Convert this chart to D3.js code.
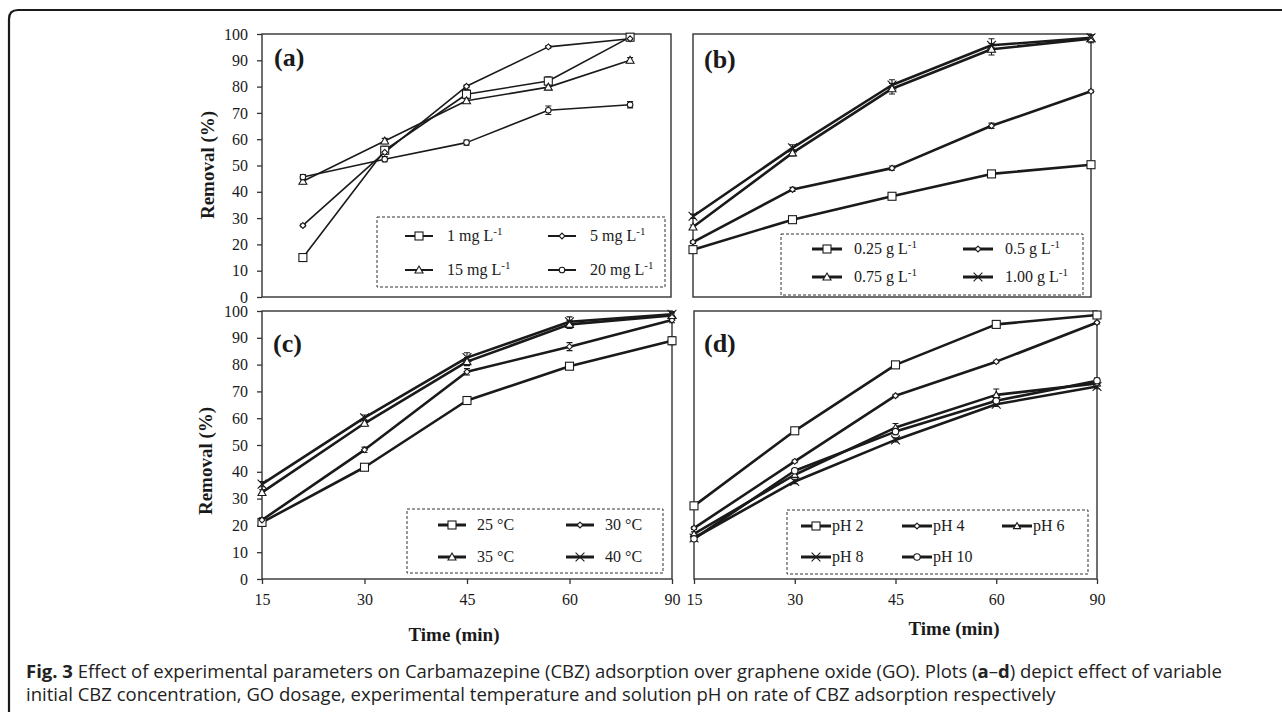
<!DOCTYPE html>
<html><head><meta charset="utf-8">
<script src="https://cdn.jsdelivr.net/npm/d3@7"></script>
<style>body{margin:0;background:#fff}svg{display:block}</style>
</head><body><svg id="c" width="1282" height="713"></svg>
<script>
// ---------- DATA ----------
const timeLabels = ["15", "30", "45", "60", "90"];
const yTickValues = [0, 10, 20, 30, 40, 50, 60, 70, 80, 90, 100];

// (a) initial CBZ concentration
const aLegend = ["1 mg L", "5 mg L", "15 mg L", "20 mg L"];
const a1mg = [15.0, 55.8, 77.1, 82.1, 98.8];
const a5mg = [27.2, 55.0, 80.1, 95.1, 98.2];
const a15mg = [44.0, 59.3, 74.6, 79.8, 90.0];
const a20mg = [45.6, 52.4, 58.7, 71.0, 73.1];
const a1mgErr = [0.8, 1.5, 1.8, 1.6, 1.4];
const a5mgErr = [0.5, 0.5, 0.5, 0.5, 0.5];
const a15mgErr = [1.0, 1.0, 1.0, 1.0, 1.0];
const a20mgErr = [1.0, 1.0, 1.0, 1.6, 1.2];

// (b) GO dosage
const bLegend = ["0.25 g L", "0.5 g L", "0.75 g L", "1.00 g L"];
const b025 = [18.0, 29.4, 38.3, 46.8, 50.3];
const b050 = [20.9, 40.9, 49.0, 65.1, 78.2];
const b075 = [26.6, 54.8, 79.2, 94.2, 98.2];
const b100 = [30.7, 56.7, 80.6, 95.7, 98.6];
const b025Err = [0.8, 0.8, 0.8, 0.8, 0.8];
const b050Err = [0.5, 0.8, 0.8, 1.0, 0.5];
const b075Err = [0.8, 1.2, 2.0, 2.2, 1.5];
const b100Err = [0.8, 1.2, 2.0, 2.5, 1.0];

// (c) temperature
const cLegend = ["25 \u00B0C", "30 \u00B0C", "35 \u00B0C", "40 \u00B0C"];
const c25 = [21.1, 41.7, 66.6, 79.4, 88.9];
const c30 = [22.0, 48.2, 77.3, 86.7, 96.6];
const c35 = [32.3, 58.1, 81.1, 95.0, 98.3];
const c40 = [35.4, 60.2, 82.6, 96.0, 98.8];
const c25Err = [1.0, 1.0, 1.2, 1.2, 1.5];
const c30Err = [0.8, 1.0, 1.2, 1.5, 1.0];
const c35Err = [1.0, 1.0, 1.5, 1.5, 1.0];
const c40Err = [1.0, 1.0, 1.8, 1.8, 1.0];

// (d) solution pH
const dLegend = ["pH 2", "pH 4", "pH 6", "pH 8", "pH 10"];
const dpH2 = [27.3, 55.3, 79.9, 95.0, 98.5];
const dpH4 = [19.0, 43.9, 68.4, 81.1, 95.7];
const dpH6 = [16.8, 38.9, 56.5, 68.7, 73.0];
const dpH8 = [15.3, 36.4, 51.9, 65.2, 71.8];
const dpH10 = [15.0, 40.4, 55.0, 66.5, 74.0];
const dpH2Err = [0.5, 0.8, 0.8, 0.8, 0.8];
const dpH4Err = [0.5, 0.5, 0.5, 0.5, 0.5];
const dpH6Err = [0.8, 0.8, 1.5, 2.2, 1.0];
const dpH8Err = [0.8, 0.8, 0.8, 0.8, 0.8];
const dpH10Err = [0.8, 0.8, 1.2, 1.0, 1.0];

const captionBold = "Fig. 3";
const captionLine1 = " Effect of experimental parameters on Carbamazepine (CBZ) adsorption over graphene oxide (GO). Plots (";
const captionLine1b = ") depict effect of variable";
const captionLine2 = "initial CBZ concentration, GO dosage, experimental temperature and solution pH on rate of CBZ adsorption respectively";

// ---------- DRAWING ----------
const svg = d3.select("#c");
const SERIF = "'Liberation Serif','Times New Roman',serif";
const INK = "#1a1a1a";

// outer frame
svg.append("path")
  .attr("d", "M9,712 L9,19 Q9,10 18,10 L1282,10")
  .attr("fill", "none").attr("stroke", INK).attr("stroke-width", 2.2);

function drawMarker(g, type, cx, cy, s) {
  const st = {fill: "#fff", stroke: INK, "stroke-width": 1.1};
  let el;
  if (type === "square") {
    el = g.append("rect").attr("x", cx - s / 2).attr("y", cy - s / 2).attr("width", s).attr("height", s);
  } else if (type === "diamond") {
    const h = s * 0.42;
    el = g.append("path").attr("d", `M${cx},${cy - h}L${cx + h},${cy}L${cx},${cy + h}L${cx - h},${cy}Z`);
  } else if (type === "triangle") {
    const h = s * 0.5;
    el = g.append("path").attr("d", `M${cx},${cy - h}L${cx + h},${cy + h * 0.75}L${cx - h},${cy + h * 0.75}Z`);
  } else if (type === "circle") {
    el = g.append("circle").attr("cx", cx).attr("cy", cy).attr("r", s * 0.4);
  } else if (type === "cross") {
    const h = s * 0.55;
    el = g.append("path").attr("d", `M${cx - h},${cy - h}L${cx + h},${cy + h}M${cx - h},${cy + h}L${cx + h},${cy - h}`)
      .attr("fill", "none").attr("stroke", INK).attr("stroke-width", 1.1);
    return el;
  }
  Object.entries(st).forEach(([k, v]) => el.attr(k, v));
  return el;
}

function addLegendText(t, label) {
  if (label.endsWith(" L")) {
    t.append("tspan").text(label);
    t.append("tspan").attr("dy", -6).attr("font-size", 11).text("-1");
  } else {
    t.text(label);
  }
}

function drawPanel(cfg) {
  const g = svg.append("g");
  const x = d3.scalePoint().domain(timeLabels).range([cfg.x0, cfg.x1]).padding(cfg.pad);
  const y = d3.scaleLinear().domain([0, 100]).range([cfg.y1, cfg.y0]);

  // frame
  g.append("rect").attr("x", cfg.x0).attr("y", cfg.y0)
    .attr("width", cfg.x1 - cfg.x0).attr("height", cfg.y1 - cfg.y0)
    .attr("fill", "none").attr("stroke", "#333").attr("stroke-width", 1.4);

  if (cfg.yAxis) {
    const ax = g.append("g").attr("transform", `translate(${cfg.x0},0)`)
      .call(d3.axisLeft(y).tickValues(yTickValues).tickSize(5).tickSizeOuter(0).tickPadding(9));
    ax.select(".domain").remove();
    ax.selectAll("line").attr("stroke", "#333").attr("stroke-width", 1.3);
    ax.selectAll("text").attr("font-family", SERIF).attr("font-size", 16).attr("fill", INK);
  }
  if (cfg.xAxis) {
    const ax = g.append("g").attr("transform", `translate(0,${cfg.y1})`)
      .call(d3.axisBottom(x).tickSize(5).tickSizeOuter(0).tickPadding(10));
    ax.select(".domain").remove();
    ax.selectAll("line").attr("stroke", "#333").attr("stroke-width", 1.3);
    ax.selectAll("text").attr("font-family", SERIF).attr("font-size", 16).attr("fill", INK);
  }

  const line = d3.line().x((d, i) => x(timeLabels[i])).y(d => y(d));
  cfg.series.forEach(s => {
    g.append("path").datum(s.values).attr("d", line)
      .attr("fill", "none").attr("stroke", INK).attr("stroke-width", cfg.lw).attr("stroke-linejoin", "round");
  });
  cfg.series.forEach(s => {
    s.values.forEach((v, i) => {
      const cx = x(timeLabels[i]);
      const e = s.err[i];
      const yt = y(v + e), yb = y(v - e);
      g.append("path").attr("d", `M${cx},${yt}L${cx},${yb}M${cx - 3},${yt}L${cx + 3},${yt}M${cx - 3},${yb}L${cx + 3},${yb}`)
        .attr("stroke", INK).attr("stroke-width", 1.1).attr("fill", "none");
    });
  });
  cfg.series.forEach(s => {
    s.values.forEach((v, i) => drawMarker(g, s.marker, x(timeLabels[i]), y(v), s.size));
  });

  // panel letter
  g.append("text").attr("x", cfg.lx).attr("y", cfg.ly).text(cfg.letter)
    .attr("font-family", SERIF).attr("font-weight", "bold").attr("font-size", 26).attr("fill", INK);

  // legend
  const L = cfg.legend;
  g.append("rect").attr("x", L.x0).attr("y", L.y0).attr("width", L.x1 - L.x0).attr("height", L.y1 - L.y0)
    .attr("fill", "#fff").attr("stroke", "#333").attr("stroke-width", 1).attr("stroke-dasharray", "3,2");
  cfg.series.forEach((s, k) => {
    const col = k % L.cols.length, row = Math.floor(k / L.cols.length);
    const lx = L.cols[col], ly = L.rows[row];
    g.append("line").attr("x1", lx).attr("x2", lx + L.len).attr("y1", ly).attr("y2", ly)
      .attr("stroke", INK).attr("stroke-width", L.lw);
    drawMarker(g, s.marker, lx + L.len / 2, ly, s.size);
    const t = g.append("text").attr("x", lx + L.len + L.gap).attr("y", ly + 5)
      .attr("font-family", SERIF).attr("font-size", 16).attr("fill", INK);
    addLegendText(t, s.name);
  });
}

drawPanel({
  letter: "(a)", x0: 262, x1: 671, y0: 34, y1: 297, pad: 0.5, yAxis: true, xAxis: false, lw: 1.6,
  lx: 274, ly: 66,
  series: [
    {name: aLegend[0], values: a1mg, err: a1mgErr, marker: "square", size: 8},
    {name: aLegend[1], values: a5mg, err: a5mgErr, marker: "diamond", size: 7},
    {name: aLegend[2], values: a15mg, err: a15mgErr, marker: "triangle", size: 8},
    {name: aLegend[3], values: a20mg, err: a20mgErr, marker: "circle", size: 7}
  ],
  legend: {x0: 377, x1: 665, y0: 217, y1: 287, cols: [405, 548], rows: [236, 270], len: 28, gap: 14, lw: 2}
});

drawPanel({
  letter: "(b)", x0: 693, x1: 1091, y0: 34, y1: 297, pad: 0, yAxis: false, xAxis: false, lw: 2.6,
  lx: 704, ly: 68,
  series: [
    {name: bLegend[0], values: b025, err: b025Err, marker: "square", size: 8},
    {name: bLegend[1], values: b050, err: b050Err, marker: "diamond", size: 7},
    {name: bLegend[2], values: b075, err: b075Err, marker: "triangle", size: 8},
    {name: bLegend[3], values: b100, err: b100Err, marker: "cross", size: 8}
  ],
  legend: {x0: 781, x1: 1083, y0: 234, y1: 295, cols: [812, 963], rows: [249, 277], len: 30, gap: 12, lw: 3}
});

drawPanel({
  letter: "(c)", x0: 262, x1: 672, y0: 311, y1: 579, pad: 0, yAxis: true, xAxis: true, lw: 2.6,
  lx: 273, ly: 352,
  series: [
    {name: cLegend[0], values: c25, err: c25Err, marker: "square", size: 8},
    {name: cLegend[1], values: c30, err: c30Err, marker: "diamond", size: 7},
    {name: cLegend[2], values: c35, err: c35Err, marker: "triangle", size: 8},
    {name: cLegend[3], values: c40, err: c40Err, marker: "cross", size: 8}
  ],
  legend: {x0: 407, x1: 663, y0: 509, y1: 573, cols: [438, 566], rows: [525, 557], len: 28, gap: 11, lw: 3}
});

drawPanel({
  letter: "(d)", x0: 694, x1: 1097, y0: 311, y1: 579, pad: 0, yAxis: false, xAxis: true, lw: 2.6,
  lx: 704, ly: 352,
  series: [
    {name: dLegend[0], values: dpH2, err: dpH2Err, marker: "square", size: 8},
    {name: dLegend[1], values: dpH4, err: dpH4Err, marker: "diamond", size: 7},
    {name: dLegend[2], values: dpH6, err: dpH6Err, marker: "triangle", size: 7},
    {name: dLegend[3], values: dpH8, err: dpH8Err, marker: "cross", size: 8},
    {name: dLegend[4], values: dpH10, err: dpH10Err, marker: "circle", size: 8}
  ],
  legend: {x0: 787, x1: 1088, y0: 510, y1: 574, cols: [801, 902, 1002], rows: [526, 557], len: 30, gap: 1, lw: 3}
});

// axis titles
[[207, 165], [205, 461]].forEach(([cx, cy]) => {
  svg.append("text").attr("transform", `translate(${cx},${cy}) rotate(-90)`)
    .attr("text-anchor", "middle").attr("dy", "0.35em")
    .attr("font-family", SERIF).attr("font-weight", "bold").attr("font-size", 19).attr("fill", INK)
    .text("Removal (%)");
});
[[454, 641], [954, 635]].forEach(([cx, by]) => {
  svg.append("text").attr("x", cx).attr("y", by).attr("text-anchor", "middle")
    .attr("font-family", SERIF).attr("font-weight", "bold").attr("font-size", 19).attr("fill", INK)
    .text("Time (min)");
});

// caption
const cap = svg.append("g").attr("font-family", "'Open Sans',sans-serif").attr("font-size", 18.5).attr("fill", "#222");
const t1 = cap.append("text").attr("x", 26).attr("y", 678);
t1.append("tspan").attr("font-weight", "bold").text(captionBold);
t1.append("tspan").text(captionLine1);
t1.append("tspan").attr("font-weight", "bold").text("a");
t1.append("tspan").text("\u2013");
t1.append("tspan").attr("font-weight", "bold").text("d");
t1.append("tspan").text(captionLine1b);
cap.append("text").attr("x", 26).attr("y", 701).text(captionLine2);
</script></body></html>
